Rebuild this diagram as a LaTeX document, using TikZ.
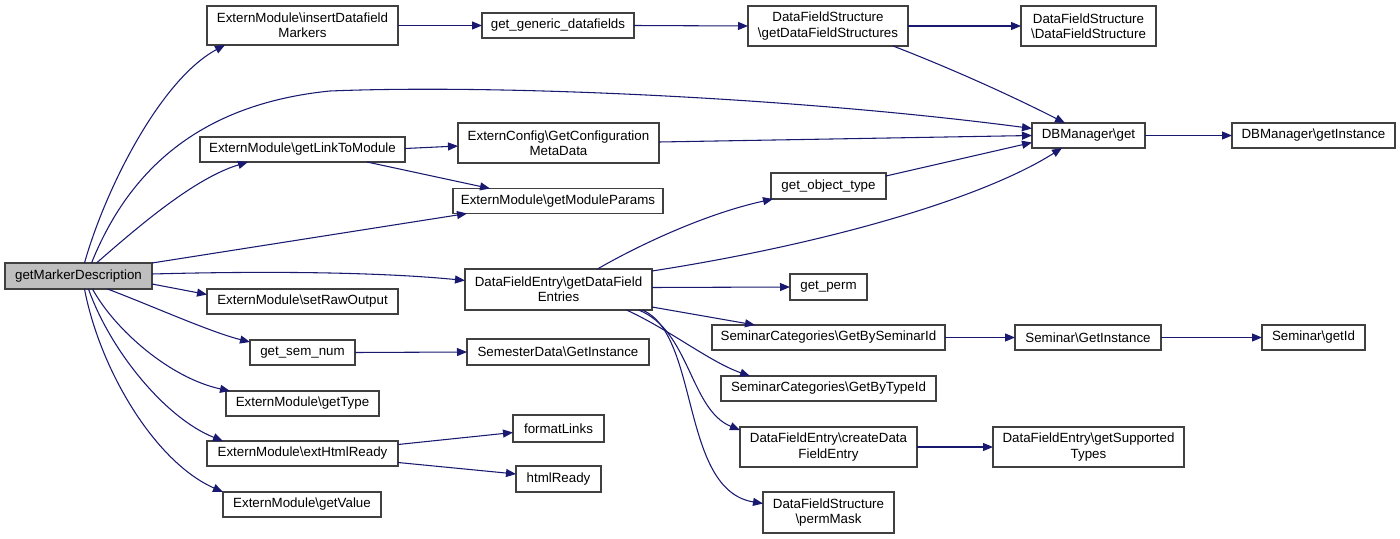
\documentclass[tikz,border=0pt]{standalone}
\usepackage{fontspec}
\setmainfont{Liberation Sans}
\usetikzlibrary{arrows.meta,calc}
\definecolor{edgec}{RGB}{25,25,112}
\definecolor{boxc}{RGB}{64,64,64}
\definecolor{hl}{RGB}{191,191,191}
\tikzset{
  bx/.style 2 args={draw=boxc, line width=1pt, fill=white, inner sep=0pt, outer sep=0pt,
     align=center, font=\fontsize{10}{11.4}\selectfont,
     minimum width=#1*0.75pt, minimum height=#2*0.75pt},
  ed/.style={draw=edgec, line width=0.8pt, -{Triangle[length=7.5pt,width=6pt]}}
}
\begin{document}
\begin{tikzpicture}[x=0.75pt,y=-0.75pt]
\useasboundingbox (0,0) rectangle (1400,539);
% nodes
\node[bx={147}{26}, fill=hl] (gmd) at (78.5,276) {getMarkerDescription};
\node[bx={191}{39}] (ins) at (302.5,25.5) {ExternModule\textbackslash insertDatafield\\Markers};
\node[bx={205}{25}] (glm) at (302.5,149.5) {ExternModule\textbackslash getLinkToModule};
\node[bx={210}{25}] (gmp) at (558,201) {ExternModule\textbackslash getModuleParams};
\node[bx={191}{25}] (srw) at (302.5,301.5) {ExternModule\textbackslash setRawOutput};
\node[bx={105}{25}] (gsn) at (302.5,352.5) {get\_sem\_num};
\node[bx={153}{25}] (gty) at (302.5,403.5) {ExternModule\textbackslash getType};
\node[bx={191}{25}] (ehr) at (302.5,453.5) {ExternModule\textbackslash extHtmlReady};
\node[bx={158}{25}] (gva) at (302,504.5) {ExternModule\textbackslash getValue};
\node[bx={152}{25}] (ggd) at (558,25.5) {get\_generic\_datafields};
\node[bx={160}{40}] (dgs) at (828,26) {DataFieldStructure\\\textbackslash getDataFieldStructures};
\node[bx={201}{40}] (ecf) at (558.5,143) {ExternConfig\textbackslash GetConfiguration\\MetaData};
\node[bx={115}{26}] (got) at (828.5,186) {get\_object\_type};
\node[bx={187}{41}] (dfe) at (558.5,289.5) {DataFieldEntry\textbackslash getDataField\\Entries};
\node[bx={77}{26}] (gpe) at (828.5,287) {get\_perm};
\node[bx={233}{25}] (gbs) at (828.5,337.5) {SeminarCategories\textbackslash GetBySeminarId};
\node[bx={215}{25}] (gbt) at (828.5,388.5) {SeminarCategories\textbackslash GetByTypeId};
\node[bx={177}{40}] (cdf) at (828.5,447) {DataFieldEntry\textbackslash createData\\FieldEntry};
\node[bx={131}{41}] (pmk) at (828.5,512.5) {DataFieldStructure\\\textbackslash permMask};
\node[bx={182}{26}] (sdg) at (558,352) {SemesterData\textbackslash GetInstance};
\node[bx={91}{27}] (fml) at (558.5,428.5) {formatLinks};
\node[bx={85}{26}] (htr) at (558.5,479) {htmlReady};
\node[bx={135}{40}] (dfs) at (1088.5,26) {DataFieldStructure\\\textbackslash DataFieldStructure};
\node[bx={113}{25}] (dbg) at (1088.5,135.5) {DBManager\textbackslash get};
\node[bx={163}{25}] (dbi) at (1313.5,135.5) {DBManager\textbackslash getInstance};
\node[bx={146}{25}] (sgi) at (1088,337.5) {Seminar\textbackslash GetInstance};
\node[bx={103}{25}] (sid) at (1313.5,337.5) {Seminar\textbackslash getId};
\node[bx={191}{40}] (gst) at (1088.5,447) {DataFieldEntry\textbackslash getSupported\\Types};
% edges from getMarkerDescription
\draw[ed] ($(gmd.north)+(6,0)$) .. controls (105,190) and (160,80) .. ($(ins.south west)+(18,0)$);
\draw[ed] ($(gmd.north)+(13,0)$) .. controls (125,180) and (190,105) .. (330,91)
   .. controls (500,84) and (800,98) .. ($(dbg.west)+(0,-7)$);
\draw[ed] ($(gmd.north)+(18,0)$) .. controls (140,225) and (195,178) .. ($(glm.south west)+(48,0)$);
\draw[ed] (gmd.north east) -- ($(gmp.south west)+(14,0)$);
\draw[ed] ($(gmd.east)+(0,-2)$) .. controls (300,270) and (400,274) .. ($(dfe.west)+(0,-9)$);
\draw[ed] ($(gmd.east)+(0,8)$) -- ($(srw.west)+(0,-7)$);
\draw[ed] ($(gmd.south)+(29,0)$) .. controls (150,305) and (210,332) .. ($(gsn.north west)+(0,2)$);
\draw[ed] ($(gmd.south)+(14,0)$) .. controls (115,330) and (170,378) .. ($(gty.north west)+(4,0)$);
\draw[ed] ($(gmd.south)+(10,0)$) .. controls (110,350) and (165,418) .. ($(ehr.north west)+(16,0)$);
\draw[ed] ($(gmd.south)+(6,0)$) .. controls (100,370) and (155,462) .. (gva.north west);
% other edges
\draw[ed] (ins.east) -- (ggd.west);
\draw[ed] (ggd.east) -- (dgs.west);
\draw[ed] (dgs.east) -- (dfs.west);
\draw[ed] ($(dgs.south east)+(-15,0)$) .. controls (950,68) and (1010,95) .. ($(dbg.north west)+(33,0)$);
\draw[ed] ($(glm.east)+(0,-1)$) -- ($(ecf.west)+(0,3)$);
\draw[ed] ($(glm.south east)+(-38,0)$) -- ($(gmp.north west)+(37,0)$);
\draw[ed] ($(ecf.east)+(0,-1)$) -- (dbg.west);
\draw[ed] ($(dfe.north)+(39,0)$) .. controls (630,250) and (700,215) .. ($(got.south west)+(2,0)$);
\draw[ed] ($(dfe.north east)+(0,2)$) .. controls (820,245) and (980,200) .. ($(dbg.south west)+(30,0)$);
\draw[ed] ($(got.east)+(0,-10)$) -- ($(dbg.west)+(0,7)$);
\draw[ed] ($(dfe.east)+(0,-2)$) -- (gpe.west);
\draw[ed] ($(dfe.south east)+(0,-3)$) -- ($(gbs.north west)+(43,0)$);
\draw[ed] ($(dfe.south)+(68,0)$) .. controls (670,330) and (710,362) .. ($(gbt.north west)+(29,0)$);
\draw[ed] ($(dfe.south)+(80,0)$) .. controls (690,330) and (690,410) .. ($(cdf.north west)+(0,3)$);
\draw[ed] ($(dfe.south)+(84,0)$) .. controls (700,335) and (680,490) .. ($(pmk.west)+(0,-9)$);
\draw[ed] (gsn.east) -- (sdg.west);
\draw[ed] ($(ehr.east)+(0,-9)$) -- ($(fml.west)+(0,4)$);
\draw[ed] ($(ehr.east)+(0,9)$) -- ($(htr.west)+(0,-5)$);
\draw[ed] (gbs.east) -- (sgi.west);
\draw[ed] (sgi.east) -- (sid.west);
\draw[ed] (cdf.east) -- (gst.west);
\draw[ed] (dbg.east) -- (dbi.west);
\end{tikzpicture}
\end{document}
